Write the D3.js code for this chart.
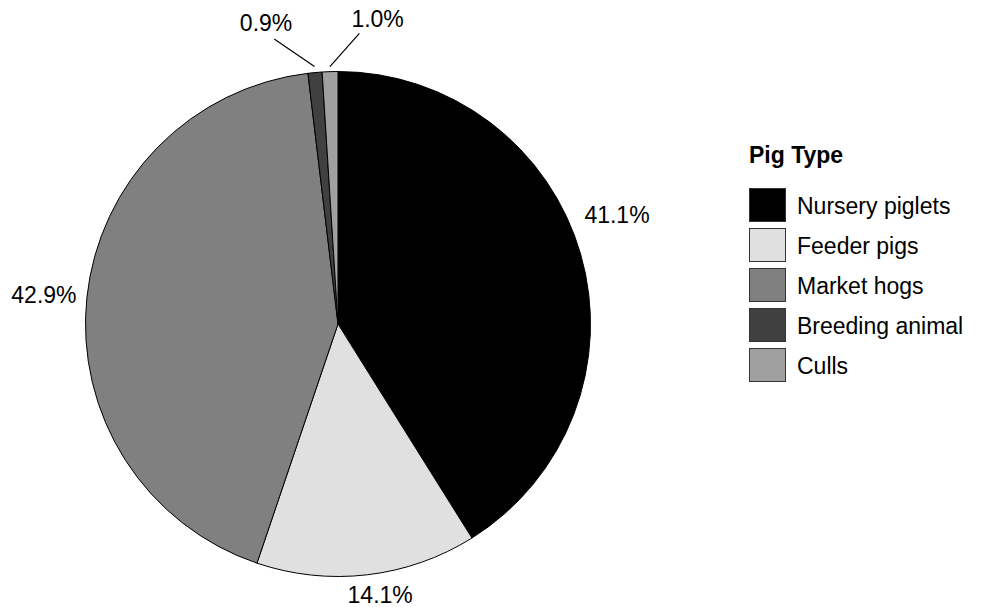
<!DOCTYPE html>
<html>
<head>
<meta charset="utf-8">
<script src="https://cdn.jsdelivr.net/npm/d3@7"></script>
<style>
  html, body { margin: 0; padding: 0; background: #ffffff; }
  svg { display: block; font-family: "Liberation Sans", Arial, sans-serif; }
</style>
</head>
<body>
<svg id="chart" width="984" height="607"></svg>
<script>
// Share of pigs by type (percent)
const categories = ["Nursery piglets", "Feeder pigs", "Market hogs", "Breeding animal", "Culls"];
const shares = [41.1, 14.1, 42.9, 0.9, 1.0];
const fills = ["#000000", "#e0e0e0", "#808080", "#404040", "#a0a0a0"];
const legendTitle = "Pig Type";

const width = 984, height = 607;
const cx = 338, cy = 324, R = 252.5;
const fontSize = 23;

// Label placement around the pie: angle shift (degrees) from the slice middle and distance from the rim.
// Thin slices get a leader line and are fanned out.
const labelLayout = {
  "Nursery piglets": { shift: -5.3, gap: 47 },
  "Feeder pigs":     { shift: -2.2, gap: 21.5 },
  "Market hogs":     { shift: -0.3, gap: 43 },
  "Breeding animal": { shift: -8.2, gap: 57.5, leader: { shift: -7.4, inner: 6, outer: 39.5 } },
  "Culls":           { shift: 9.2,  gap: 55,   leader: { shift: 6.0,  inner: 5, outer: 39 } }
};

const data = categories.map((c, i) => ({ category: c, value: shares[i], fill: fills[i] }));

const svg = d3.select("#chart");

const pie = d3.pie().sort(null).value(d => d.value).startAngle(0).endAngle(2 * Math.PI);
const arcs = pie(data);
const arc = d3.arc().innerRadius(0).outerRadius(R);

const g = svg.append("g").attr("transform", `translate(${cx},${cy})`);

g.selectAll("path.slice")
  .data(arcs)
  .join("path")
  .attr("class", "slice")
  .attr("d", arc)
  .attr("fill", d => d.data.fill)
  .attr("stroke", "#000000")
  .attr("stroke-width", 1)
  .attr("stroke-linejoin", "round");

const rad = deg => deg * Math.PI / 180;
const polar = (a, r) => [r * Math.sin(a), -r * Math.cos(a)];
const mid = d => (d.startAngle + d.endAngle) / 2;

// Leader lines for thin slices
const withLeader = arcs.filter(d => labelLayout[d.data.category].leader);
g.selectAll("line.leader")
  .data(withLeader)
  .join("line")
  .attr("class", "leader")
  .each(function (d) {
    const L = labelLayout[d.data.category].leader;
    const p0 = polar(mid(d), R + L.inner);
    const p1 = polar(mid(d) + rad(L.shift), R + L.outer);
    d3.select(this)
      .attr("x1", p0[0]).attr("y1", p0[1])
      .attr("x2", p1[0]).attr("y2", p1[1]);
  })
  .attr("stroke", "#000000")
  .attr("stroke-width", 1.2);

// Percent labels
const fmt = d3.format(".1f");
g.selectAll("text.pct")
  .data(arcs)
  .join("text")
  .attr("class", "pct")
  .each(function (d) {
    const L = labelLayout[d.data.category];
    const p = polar(mid(d) + rad(L.shift), R + L.gap);
    d3.select(this).attr("x", p[0]).attr("y", p[1] + fontSize * 0.358);
  })
  .attr("text-anchor", "middle")
  .attr("font-size", fontSize)
  .attr("fill", "#000000")
  .text(d => fmt(d.data.value) + "%");

// Legend
const legend = svg.append("g").attr("transform", "translate(749,0)");
legend.append("text")
  .attr("x", 0)
  .attr("y", 163)
  .attr("font-size", fontSize)
  .attr("font-weight", "bold")
  .attr("fill", "#000000")
  .text(legendTitle);

const rowY = d3.scaleBand().domain(categories).range([188, 388]).paddingInner(0).paddingOuter(0);

const rows = legend.selectAll("g.row")
  .data(data)
  .join("g")
  .attr("class", "row")
  .attr("transform", d => `translate(0,${rowY(d.category)})`);

rows.append("rect")
  .attr("x", 0.5)
  .attr("y", 0.5)
  .attr("width", 36)
  .attr("height", 33)
  .attr("fill", d => d.fill)
  .attr("stroke", "#333333")
  .attr("stroke-width", 1);

rows.append("text")
  .attr("x", 48)
  .attr("y", 26)
  .attr("font-size", fontSize)
  .attr("fill", "#000000")
  .text(d => d.category);
</script>
</body>
</html>
